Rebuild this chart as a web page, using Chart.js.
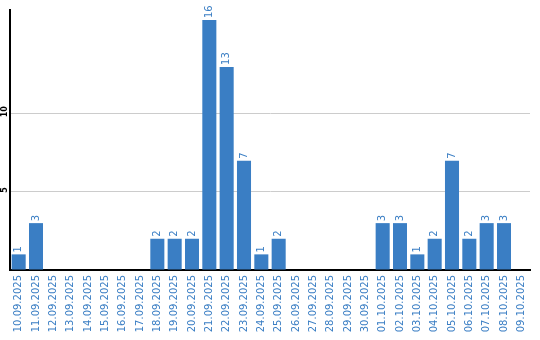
<!DOCTYPE html>
<html>
<head>
<meta charset="utf-8">
<script src="https://cdn.jsdelivr.net/npm/chart.js@4"></script>
<style>
  html, body { margin: 0; padding: 0; background: #fff; }
  #wrap { width: 540px; height: 340px; }
</style>
</head>
<body>
<div id="wrap"><canvas id="chart" width="540" height="340"></canvas></div>
<script>
const labels = [
  "10.09.2025", "11.09.2025", "12.09.2025", "13.09.2025", "14.09.2025",
  "15.09.2025", "16.09.2025", "17.09.2025", "18.09.2025", "19.09.2025",
  "20.09.2025", "21.09.2025", "22.09.2025", "23.09.2025", "24.09.2025",
  "25.09.2025", "26.09.2025", "27.09.2025", "28.09.2025", "29.09.2025",
  "30.09.2025", "01.10.2025", "02.10.2025", "03.10.2025", "04.10.2025",
  "05.10.2025", "06.10.2025", "07.10.2025", "08.10.2025", "09.10.2025"
];
const counts = [1, 3, 0, 0, 0, 0, 0, 0, 2, 2, 2, 16, 13, 7, 1, 2, 0, 0, 0, 0, 0, 3, 3, 1, 2, 7, 2, 3, 3, 0];
const yTicks = [5, 10];

const blue = "#3a7ec4";

// value labels above bars + rotated y tick labels
const labelPlugin = {
  id: "labelPlugin",
  afterDatasetsDraw(chart) {
    const ctx = chart.ctx;
    const meta = chart.getDatasetMeta(0);
    ctx.save();
    ctx.font = "10px 'DejaVu Sans'";
    ctx.fillStyle = blue;
    ctx.textAlign = "left";
    ctx.textBaseline = "middle";
    meta.data.forEach((bar, i) => {
      const v = counts[i];
      if (!v) return;
      ctx.save();
      ctx.translate(bar.x, bar.y - 2);
      ctx.rotate(-Math.PI / 2);
      ctx.fillText(String(v), 0, 0);
      ctx.restore();
    });
    // y tick labels
    const y = chart.scales.y;
    ctx.font = "bold 8px 'DejaVu Sans'";
    ctx.fillStyle = "#000";
    ctx.textAlign = "center";
    yTicks.forEach(t => {
      ctx.save();
      ctx.translate(5, y.getPixelForValue(t) - 2);
      ctx.rotate(-Math.PI / 2);
      ctx.fillText(String(t), 0, 0);
      ctx.restore();
    });
    ctx.restore();
  }
};

new Chart(document.getElementById("chart"), {
  type: "bar",
  data: {
    labels: labels,
    datasets: [{
      data: counts,
      backgroundColor: blue,
      barPercentage: 0.81,
      categoryPercentage: 1.0
    }]
  },
  options: {
    responsive: false,
    animation: false,
    layout: { padding: { left: 10, top: 10, right: 10, bottom: 0 } },
    plugins: {
      legend: { display: false },
      tooltip: { enabled: false }
    },
    scales: {
      x: {
        grid: { display: false, drawTicks: false },
        border: { color: "#000", width: 2 },
        ticks: {
          color: blue,
          font: { family: "DejaVu Sans", size: 10 },
          minRotation: 90,
          maxRotation: 90,
          autoSkip: false,
          padding: 5
        },
        afterFit(scale) { scale.height = 70; }
      },
      y: {
        min: 0,
        max: 16.64,
        ticks: { display: false, stepSize: 5 },
        grid: {
          drawTicks: false,
          color: ctx => (yTicks.includes(ctx.tick.value) ? "#cccccc" : "rgba(0,0,0,0)")
        },
        border: { color: "#000", width: 2 },
        afterFit(scale) { scale.width = 0; }
      }
    }
  },
  plugins: [labelPlugin]
});
</script>
</body>
</html>
